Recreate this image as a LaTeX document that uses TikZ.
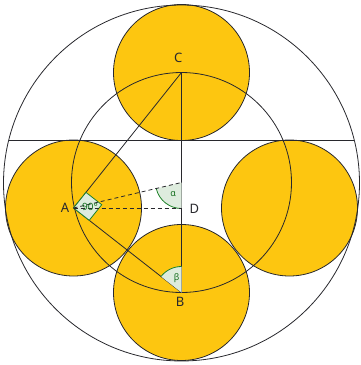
\documentclass[tikz,border=0pt]{standalone}
\usepackage{fontspec}
\setmainfont{Noto Sans}
\usetikzlibrary{calc,angles}
\definecolor{gold}{RGB}{253,198,16}
\definecolor{ink}{RGB}{40,40,45}
\definecolor{angfill}{RGB}{222,236,222}
\definecolor{angline}{RGB}{30,130,40}
\definecolor{angtext}{RGB}{20,110,30}
\tikzset{
  disc/.style={fill=gold, draw=ink, line width=0.8pt},
  ring/.style={draw=ink, line width=0.8pt},
  seg/.style={draw=ink, line width=0.8pt},
  dash seg/.style={draw=ink, line width=0.8pt, dash pattern=on 4pt off 3pt},
  anglemark/.style={draw=angline, fill=angfill, line width=0.8pt},
  anglabel/.style={text=angtext, font=\fontsize{9}{10}\selectfont, inner sep=0pt},
  ptlabel/.style={text=ink, font=\fontsize{13}{15}\selectfont, inner sep=0pt}
}
\begin{document}
\begin{tikzpicture}[x=1pt,y=1pt]
\useasboundingbox (0,0) rectangle (360,-365);
% centres
\coordinate (O) at (181.5,-182.5);
\coordinate (Big) at (181.5,-183);
\coordinate (C) at (181.5,-72.5);
\coordinate (B) at (181.5,-292.5);
\coordinate (A) at (73.5,-208);
\coordinate (R) at (289.5,-208);
\coordinate (D) at (181.5,-208);
\coordinate (H1) at (8.8,-140);
\coordinate (H2) at (354.2,-140);
% yellow discs
\path[disc] (C) circle (68);
\path[disc] (A) circle (68);
\path[disc] (R) circle (68);
\path[disc] (B) circle (68);
% circles
\path[ring] (Big) circle (178);
\path[ring] (O) circle (110);
% lines
\draw[seg] (H1) -- (H2);
\draw[seg] (C) -- (B);
\draw[seg] (A) -- (C);
\draw[seg] (A) -- (B);
% angle marks
\pic[anglemark, angle radius=26pt] {angle = A--O--D};
\pic[anglemark, angle radius=26pt] {angle = C--B--A};
\coordinate (P1) at ($(A)!20pt!(C)$);
\coordinate (P2) at ($(A)!20pt!(B)$);
\coordinate (P3) at ($(P1)+(P2)-(A)$);
\path[anglemark] (A) -- (P1) -- (P3) -- (P2) -- cycle;
% dashed lines
\draw[dash seg] (A) -- (D);
\draw[dash seg] (A) -- (O);
% labels
\node[anglabel] (la) at (173.3,-194.5) {α};
\node[anglabel] (lb) at (176.7,-278.3) {β};
\node[anglabel, font=\fontsize{10}{11}\selectfont] (lr) at (90,-206.5) {90°};
\node[ptlabel] (tA) at (65,-208.3) {A};
\node[ptlabel] (tB) at (180,-301.5) {B};
\node[ptlabel] (tC) at (178.3,-58.3) {C};
\node[ptlabel] (tD) at (194.3,-209.3) {D};
\end{tikzpicture}
\end{document}
